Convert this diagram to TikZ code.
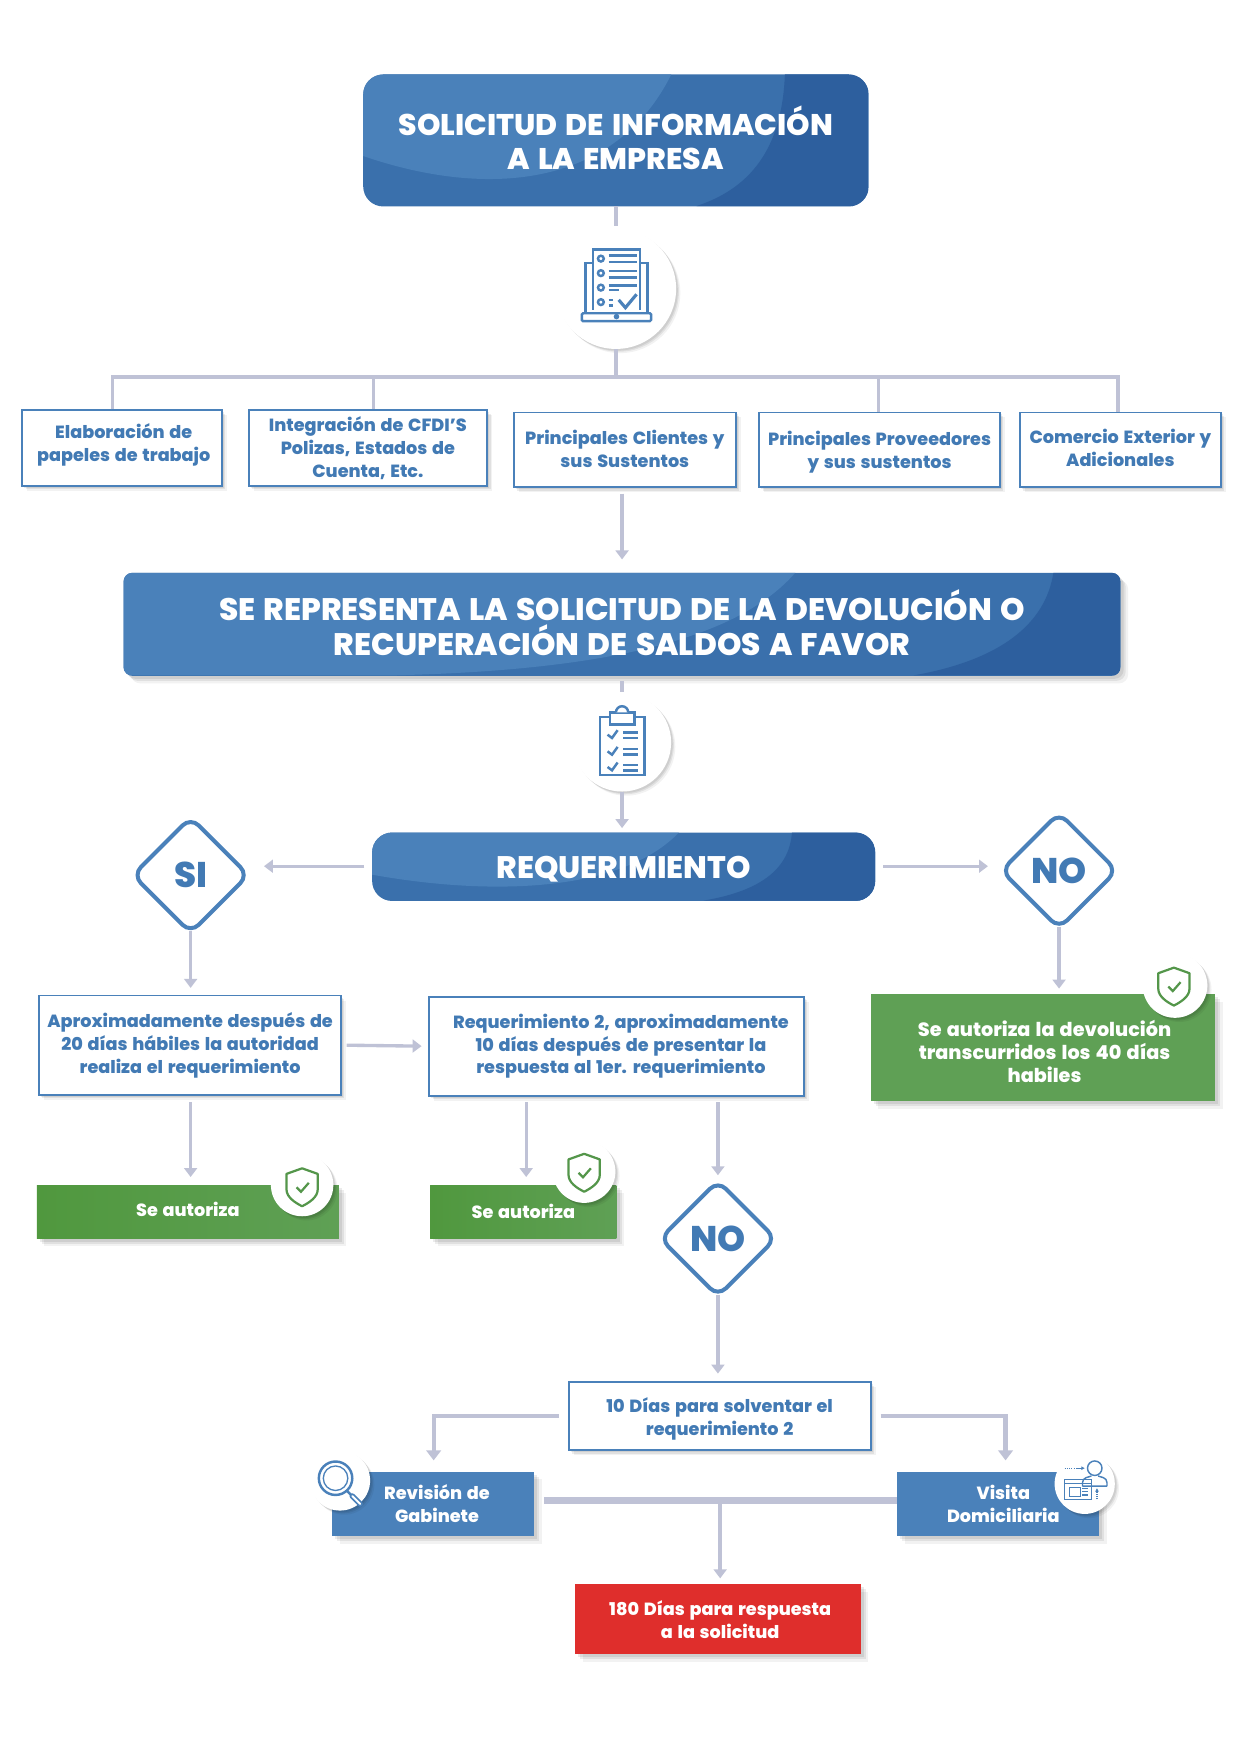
\documentclass[tikz,border=0pt]{standalone}
\usepackage{fontspec}
\setmainfont{Poppins}[BoldFont={Poppins ExtraBold},BoldFeatures={WordSpace=1.4}]
\usetikzlibrary{arrows.meta,calc,positioning,shapes.geometric,shadows}
\pgfdeclarelayer{back}
\pgfsetlayers{back,main}
\definecolor{lightblue}{RGB}{74,129,186}
\definecolor{midblue}{RGB}{58,112,172}
\definecolor{darkblue}{RGB}{45,95,158}
\definecolor{inkblue}{RGB}{66,122,180}
\definecolor{linegrey}{RGB}{191,194,214}
\definecolor{okgreen}{RGB}{95,160,85}
\definecolor{okgreenleft}{RGB}{80,152,62}
\definecolor{iconinkgreen}{RGB}{84,150,74}
\definecolor{alertred}{RGB}{223,46,44}
\newcommand{\pillshape}{
  \fill[lightblue] (0,.62) .. controls (.25,.95) and (.5,.85) .. (.61,0) -- (0,0) -- cycle;
  \fill[darkblue] (.835,0) .. controls (.83,.5) and (.78,.85) .. (.66,1) -- (1,1) -- (1,0) -- cycle;
}
\newcommand{\wideshape}{
  \fill[lightblue] (.27,1) .. controls (.5,.95) and (.62,.6) .. (.674,0) -- (0,0) -- (0,1) -- cycle;
  \fill[darkblue] (.933,0) .. controls (.925,.5) and (.88,.85) .. (.793,1) -- (1,1) -- (1,0) -- cycle;
}
\newcommand{\swooshbox}[6]{
  \begin{pgfonlayer}{back}
    \path[fill=midblue,rounded corners=#4,#5] (#1.north west) rectangle (#1.south east);
    \begin{scope}
      \clip[rounded corners=#4] (#1.north west) rectangle (#1.south east);
      \begin{scope}[shift={(#1.north west)},x=#2pt,y=-#3pt]
        #6
      \end{scope}
    \end{scope}
  \end{pgfonlayer}
}
\newcommand{\nudge}[1]{\hspace*{#1}}
\tikzset{
  softshadow/.style={
    drop shadow={shadow xshift=1.5*#1,shadow yshift=-1.5*#1,fill=black,opacity=0.05},
    drop shadow={shadow xshift=#1,shadow yshift=-#1,fill=black,opacity=0.07},
    drop shadow={shadow xshift=0.6*#1,shadow yshift=-0.6*#1,fill=black,opacity=0.08}},
  softshadow/.default=4pt,
  wire/.style={linegrey,line width=3.4pt},
  thickwire/.style={linegrey,line width=6pt},
  flow/.style={linegrey,line width=3pt,-{Triangle[length=8pt,width=11.5pt]}},
  elbow/.style={linegrey,line width=3.8pt,-{Triangle[length=9pt,width=13pt]}},
  banner/.style={text=white,align=center,inner sep=0pt,
                 font=\fontsize{26.8}{31}\selectfont\bfseries},
  bannerbig/.style={banner,font=\fontsize{27.9}{31}\selectfont\bfseries},
  infobox/.style={draw=lightblue,line width=1.7pt,fill=white,text=inkblue,align=center,inner sep=0pt,
                  softshadow=3pt,font=\fontsize{15.8}{20.5}\selectfont\bfseries},
  okbox/.style={fill=okgreen,text=white,align=center,inner sep=0pt,softshadow=4.5pt,
                font=\fontsize{15.8}{20.5}\selectfont\bfseries},
  okboxgrad/.style={okbox,left color=okgreenleft,right color=okgreen},
  bluebox/.style={okbox,fill=lightblue},
  redbox/.style={okbox,fill=alertred},
  iconcircle/.style={circle,fill=white,inner sep=0pt,softshadow=2.5pt},
  decision/.style={diamond,aspect=1,draw=lightblue,line width=3.6pt,rounded corners=10pt,fill=white,
                   text=inkblue,inner sep=0pt,minimum size=105pt,font=\fontsize{32}{32}\selectfont\bfseries},
  iconline/.style={draw=lightblue,line width=2.2pt},
  pics/shieldicon/.style={code={
    \draw[iconinkgreen,line width=2pt,line join=round]
      (0,-17) -- (14,-12) -- (14,2) .. controls (14,9) and (6,14) .. (0,17)
      .. controls (-6,14) and (-14,9) .. (-14,2) -- (-14,-12) -- cycle;
    \draw[iconinkgreen,line width=2pt] (-5,0) -- (-1,4) -- (6,-4);
  }},
  pics/laptopicon/.style={code={
    \draw[iconline,rounded corners=1pt] (-31,25) rectangle (31,32);
    \draw[iconline] (-21,-20) -- (-28,-20) -- (-28,25) (21,-20) -- (28,-20) -- (28,25);
    \draw[iconline,fill=white] (-21,22) -- (-21,-32) -- (21,-32) -- (21,22);
    \foreach \yy in {-24,-11,2,15} \draw[iconline] (-14,\yy) circle (2.6);
    \foreach \yy/\xx in {-27/18,-21/18,-13/18,-7/18,0/18,4/2,13/-3,18/-3}
      \draw[iconline] (-7,\yy) -- (\xx,\yy);
    \draw[iconline,line width=2.8pt] (2,13) -- (8,20) -- (18,8);
    \fill[lightblue] (0,28) circle (2.5);
  }},
  pics/clipicon/.style={code={
    \draw[iconline] (-20,-21) rectangle (20,31);
    \draw[iconline,fill=white] (-11,-14) rectangle (11,-25);
    \draw[iconline,fill=white] (-5.5,-25) arc (180:360:5.5);
    \foreach \yy in {-4,11,25} {
      \draw[iconline] (-13,\yy-1) -- (-9,\yy+2) -- (-4,\yy-5);
      \draw[iconline] (1,\yy-3) -- (14,\yy-3) (1,\yy+2) -- (14,\yy+2);
    }
  }},
  pics/lensicon/.style={code={
    \draw[iconline] (0,0) circle (15);
    \draw[iconline,line width=1.2pt] (0,0) circle (11);
    \draw[iconline] (10,11) -- (14,15);
    \draw[iconline,line width=5pt,line cap=round] (15,16) -- (22,23);
    \draw[white,line width=1.8pt,line cap=round] (15,16) -- (22,23);
  }},
  pics/visiticon/.style={code={
    \draw[iconline,line width=1.3pt] (9,-14) circle (6.5);
    \draw[iconline,line width=1.3pt] (-2,2) -- (-2,-1) .. controls (-2,-6) and (4,-6) .. (6,-7)
      (20,2) -- (20,-1) .. controls (20,-6) and (14,-6) .. (12,-7) (-2,2) -- (20,2);
    \draw[iconline,line width=1.3pt] (-18,-4) rectangle (6,14);
    \draw[iconline,line width=1pt] (-18,0) -- (6,0);
    \draw[iconline,line width=1pt] (-14,3) rectangle (-4,11);
    \foreach \yy in {4,7,10} \draw[iconline,line width=1pt] (-2,\yy) -- (3,\yy);
    \draw[iconline,line width=1pt,densely dotted] (-18,-14) -- (-8,-14);
    \draw[iconline,line width=1pt,-{Triangle[length=3pt,width=3pt]}] (-8,-14) -- (0,-14);
    \draw[iconline,line width=1pt,densely dotted] (11,14) -- (11,8);
    \draw[iconline,line width=1pt,-{Triangle[length=3pt,width=3pt]}] (11,8) -- (11,4);
  }},
}
\begin{document}
\begin{tikzpicture}[x=1pt,y=-1pt]
  \begin{pgfonlayer}{back}
    \path[use as bounding box,fill=white] (0,0) rectangle (1121,1568);
  \end{pgfonlayer}

  \node[banner,minimum width=453pt,minimum height=118pt] (title) at (552.5,126)
    {SOLICITUD DE INFORMACIÓN\\A LA EMPRESA\\[-26pt]};
  \swooshbox{title}{453}{118}{18pt}{}{\pillshape}
  \node[iconcircle,minimum size=108pt] (c1) at (552.5,259) {};
  \pic at (553,256) {laptopicon};

  \coordinate (busL) at (101,338);
  \coordinate (busM) at (552.5,338);
  \coordinate (busR) at (1003,338);
  \coordinate (drop2) at (335,338);
  \coordinate (drop4) at (788,338);

  \node[infobox,minimum width=179pt,minimum height=68pt] (b1) at (109.5,402)
    {\nudge{3pt}Elaboración de\\\nudge{3pt}papeles de trabajo\\[-10.5pt]};
  \node[infobox,minimum width=214pt,minimum height=68pt] (b2) at (330,402)
    {Integración de CFDI’S\\Polizas, Estados de\\Cuenta, Etc.};
  \node[infobox,minimum width=199pt,minimum height=67pt] (b3) at (560.5,403.5)
    {Principales Clientes y\\sus Sustentos\\[-18.5pt]};
  \node[infobox,minimum width=216pt,minimum height=67pt] (b4) at (789,403.5)
    {\\[-3pt]Principales Proveedores\\y sus sustentos};
  \node[infobox,minimum width=180pt,minimum height=67pt] (b5) at (1005,403.5)
    {Comercio Exterior y\\Adicionales\\[-16.5pt]};

  \node[bannerbig,minimum width=894pt,minimum height=92pt] (rep) at (558,560)
    {SE REPRESENTA LA SOLICITUD DE LA DEVOLUCIÓN O\\RECUPERACIÓN DE SALDOS A FAVOR\\[-28pt]};
  \swooshbox{rep}{894}{92}{8pt}{softshadow=4.5pt}{\wideshape}
  \node[iconcircle,minimum size=88pt] (c2) at (558,666) {};
  \pic at (558,664) {clipicon};

  \node[bannerbig,minimum width=451pt,minimum height=61pt] (req) at (559.5,777.5)
    {\\[-6pt]REQUERIMIENTO};
  \swooshbox{req}{451}{61}{18pt}{}{\pillshape}
  \node[decision] (si) at (171,785) {SI};
  \node[decision] (no1) at (950,781) {NO};

  \node[infobox,minimum width=271pt,minimum height=89pt] (aprox) at (170.5,937.5)
    {Aproximadamente después de\\20 días hábiles la autoridad\\realiza el requerimiento};
  \node[infobox,minimum width=336pt,minimum height=89pt] (req2) at (553,938.5)
    {\nudge{8pt}Requerimiento 2, aproximadamente\\\nudge{8pt}10 días después de presentar la\\\nudge{8pt}respuesta al 1er. requerimiento};
  \node[okbox,minimum width=309pt,minimum height=96pt,font=\fontsize{17.2}{20.5}\selectfont\bfseries] (autdev) at (935.5,940)
    {\\[1pt]\nudge{3pt}Se autoriza la devolución\\\nudge{3pt}transcurridos los 40 días\\\nudge{3pt}habiles};
  \node[iconcircle,minimum size=58pt] (c3) at (1054,884) {};
  \pic at (1053,885) {shieldicon};

  \node[okboxgrad,minimum width=271pt,minimum height=48pt] (aut1) at (168.5,1087) {Se autoriza\\[-16.5pt]};
  \node[iconcircle,minimum size=56pt] (c4) at (271,1063) {};
  \pic at (271,1065) {shieldicon};
  \node[okboxgrad,minimum width=167pt,minimum height=48pt] (aut2) at (469.5,1087) {Se autoriza};
  \node[iconcircle,minimum size=56pt] (c5) at (524,1051) {};
  \pic at (524,1052) {shieldicon};

  \node[decision] (no2) at (644,1111) {NO};
  \node[infobox,minimum width=271pt,minimum height=61pt] (solv) at (645.5,1270.5)
    {\\[-3pt]10 Días para solventar el\\requerimiento 2};

  \node[bluebox,minimum width=181pt,minimum height=58pt] (rev) at (388.5,1349)
    {\nudge{7pt}Revisión de\\\nudge{7pt}Gabinete};
  \node[iconcircle,minimum size=54pt] (c6) at (305,1328) {};
  \pic at (301,1326) {lensicon};
  \node[bluebox,minimum width=181pt,minimum height=58pt] (vis) at (895.5,1349)
    {\nudge{9pt}Visita\\\nudge{9pt}Domiciliaria};
  \node[iconcircle,minimum size=54pt] (c7) at (973,1331) {};
  \pic at (973,1331) {visiticon};
  \node[redbox,minimum width=256pt,minimum height=63pt] (resp) at (644,1452.5)
    {\nudge{4pt}180 Días para respuesta\\\nudge{4pt}a la solicitud};

  \coordinate (revin) at (389,1320);
  \coordinate (visin) at (902,1320);
  \coordinate (join) at (646,1346);

  \draw[wire,shorten >=2pt] (title.south) -- (c1.north);
  \draw[wire] (c1.south) -- (busM);
  \draw[wire] (busL |- b1.north) -- (busL) -- (busR) -- (busR |- b5.north);
  \draw[wire] (drop2) -- (drop2 |- b2.north);
  \draw[wire] (drop4) -- (drop4 |- b4.north);
  \draw[flow,shorten <=5pt,shorten >=12pt] (rep.north |- b3.south) -- (rep.north);
  \draw[wire,line width=3pt,shorten <=5pt,shorten >=1pt] (rep.south) -- (c2.north);
  \draw[flow,shorten >=4pt] (c2.south) -- (c2.south |- req.north);
  \draw[flow,shorten <=7pt,shorten >=11.5pt] (req.west |- 0,777) -- (si.east |- 0,777);
  \draw[flow,shorten <=7pt,shorten >=9.5pt] (req.east |- 0,777) -- (no1.west |- 0,777);
  \draw[flow,shorten <=-4pt,shorten >=6pt] (si.south) -- (si.south |- aprox.north);
  \draw[flow,shorten <=-4pt,shorten >=5pt] (no1.south) -- (no1.south |- autdev.north);
  \draw[flow,shorten <=4pt,shorten >=6pt] (aprox.east) -- (req2.west);
  \draw[flow,shorten <=6pt,shorten >=7pt] (si.south |- aprox.south) -- (si.south |- aut1.north);
  \draw[flow,shorten <=5pt,shorten >=7pt] (req2.south -| 472,0) -- (aut2.north -| 472,0);
  \draw[flow,shorten <=5pt,shorten >=2.5pt] (no2.north |- req2.south) -- (no2.north);
  \draw[flow,shorten <=-4pt,shorten >=7pt] (no2.south) -- (no2.south |- solv.north);
  \draw[elbow,shorten <=8pt,shorten >=10pt] (solv.west) -| (revin);
  \draw[elbow,shorten <=8pt,shorten >=10pt] (solv.east) -| (visin);
  \draw[thickwire,shorten <=9pt] (rev.east |- join) -- (vis.west |- join);
  \draw[flow,shorten >=5pt] (join) -- (join |- resp.north);
\end{tikzpicture}
\end{document}
